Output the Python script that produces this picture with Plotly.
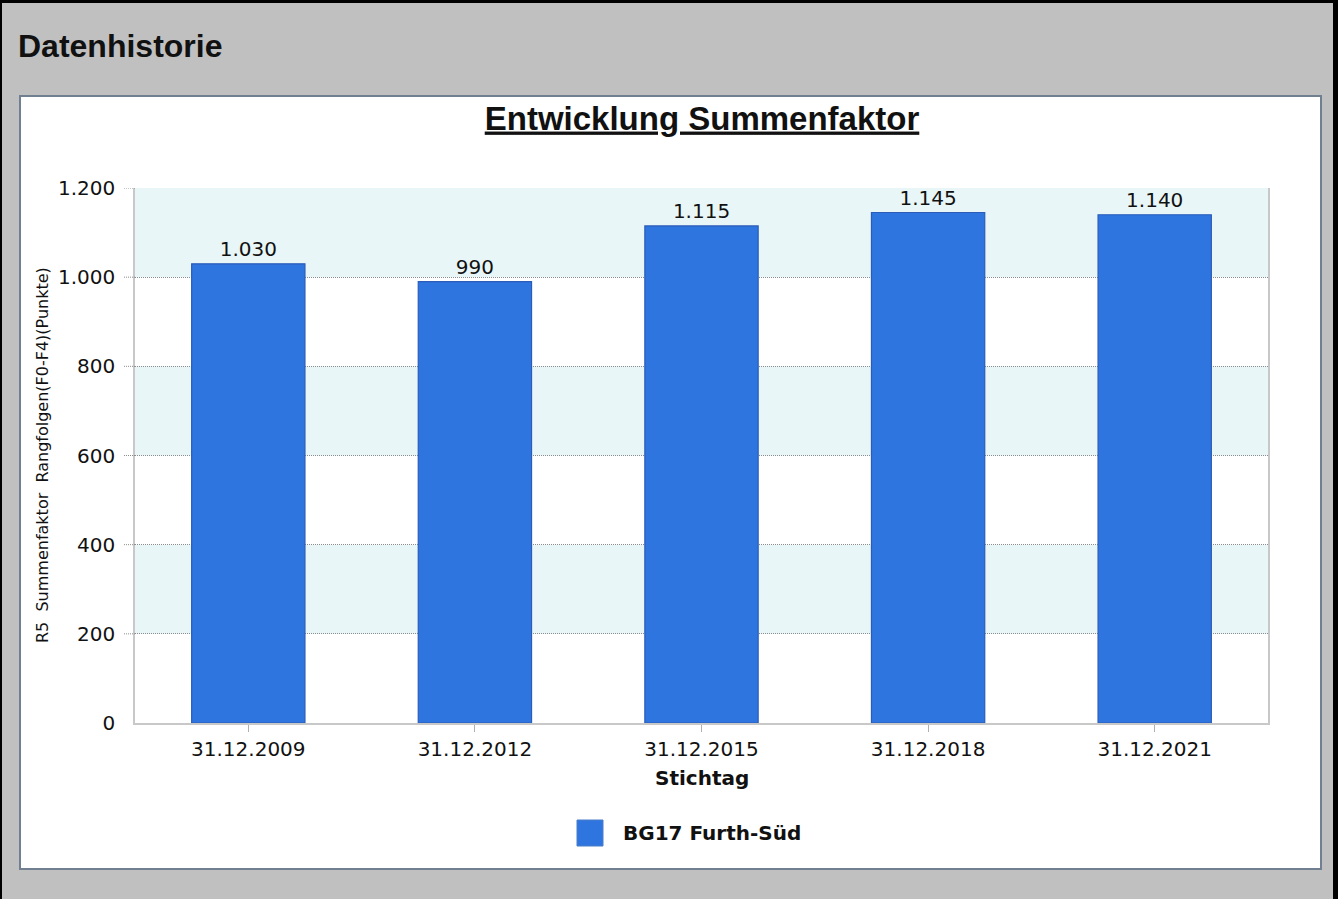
import plotly.graph_objects as go

categories = ["31.12.2009", "31.12.2012", "31.12.2015", "31.12.2018", "31.12.2021"]
values = [1030, 990, 1115, 1145, 1140]
series_name = "BG17 Furth-Süd"
y_ticks = [0, 200, 400, 600, 800, 1000, 1200]
bands = [(200, 400), (600, 800), (1000, 1200)]

W, H = 1338, 899
L, R, T, B = 135, 1268, 188, 723
PW, PH = R - L, B - T


def px(x):
    return (x - L) / PW


def py(y):
    return (B - y) / PH


BAR = "#2E75E0"
BAR_LINE = "#2A5CB8"
FONT = "DejaVu Sans"
GRID = "#8C8C8C"

fig = go.Figure()
fig.add_trace(go.Bar(
    x=categories, y=values, name=series_name,
    marker=dict(color=BAR, line=dict(color=BAR_LINE, width=1.2)),
    width=0.5,
    text=values, texttemplate="%{y:,}", textposition="outside",
    textfont=dict(family=FONT, size=20, color="#111"),
    cliponaxis=False, showlegend=False,
))

shapes = []
# outer frame
shapes.append(dict(type="rect", xref="paper", yref="paper", x0=px(20), x1=px(1321), y0=py(869), y1=py(96),
                   fillcolor="white", line=dict(color="#708090", width=2), layer="below"))
shapes.append(dict(type="rect", xref="paper", yref="paper", x0=px(0), x1=px(1338), y0=py(0), y1=py(3),
                   fillcolor="black", line=dict(width=0), layer="below"))
shapes.append(dict(type="rect", xref="paper", yref="paper", x0=px(0), x1=px(2), y0=py(0), y1=py(899),
                   fillcolor="black", line=dict(width=0), layer="below"))
shapes.append(dict(type="rect", xref="paper", yref="paper", x0=px(1333), x1=px(1338), y0=py(0), y1=py(899),
                   fillcolor="black", line=dict(width=0), layer="below"))
# bands
for lo, hi in bands:
    shapes.append(dict(type="rect", xref="x domain", yref="y", x0=0, x1=1, y0=lo, y1=hi,
                       fillcolor="#E8F6F8", line=dict(width=0), layer="below"))
# short dotted tick extensions on y
for v in y_ticks[1:]:
    shapes.append(dict(type="line", xref="paper", yref="y", x0=px(124), x1=px(135), y0=v, y1=v,
                       line=dict(color=GRID, width=1, dash="1px,1px"), layer="above"))
# legend swatch
shapes.append(dict(type="rect", xref="paper", yref="paper", x0=px(577), x1=px(603), y0=py(846), y1=py(820),
                   fillcolor=BAR, line=dict(color="#4A7CC8", width=1)))

annotations = [
    dict(text="<b>Datenhistorie</b>", xref="paper", yref="paper", x=px(16), y=py(46),
         xanchor="left", yanchor="middle", showarrow=False,
         font=dict(family="Liberation Sans", size=32, color="#111")),
    dict(text="R5\u00a0\u00a0Summenfaktor\u00a0\u00a0Rangfolgen(F0-F4)(Punkte)", xref="paper", yref="paper",
         x=px(42), y=py(455), textangle=-90, xanchor="center", yanchor="middle", showarrow=False,
         font=dict(family=FONT, size=16, color="#111")),
    dict(text="<b>Stichtag</b>", xref="paper", yref="paper", x=px(702), y=py(778),
         xanchor="center", yanchor="middle", showarrow=False,
         font=dict(family=FONT, size=20, color="#111")),
    dict(text="<b>" + series_name + "</b>", xref="paper", yref="paper", x=px(621), y=py(833),
         xanchor="left", yanchor="middle", showarrow=False,
         font=dict(family=FONT, size=20, color="#111")),
]

fig.update_layout(
    width=W, height=H,
    margin=dict(l=L, r=W - R, t=T, b=H - B, autoexpand=False),
    paper_bgcolor="#C0C0C0", plot_bgcolor="white",
    separators=",.",
    title=dict(text="<u><b>Entwicklung Summenfaktor</b></u>", x=px(702), xref="paper", xanchor="center",
               y=1 - 118 / H, yanchor="middle",
               font=dict(family="Liberation Sans", size=33, color="#111")),
    shapes=shapes, annotations=annotations, showlegend=False, bargap=0.5,
    font=dict(family=FONT, color="#111"),
)
fig.update_xaxes(
    showgrid=False, showline=True, linecolor="#C8C8C8", linewidth=1.5,
    ticks="outside", ticklen=7, tickcolor="#B0B0B0", tickwidth=1,
    tickfont=dict(family=FONT, size=20, color="#111"),
)
fig.update_yaxes(
    range=[0, 1200], tickvals=y_ticks, tickformat=",",
    showgrid=True, gridcolor=GRID, griddash="1px,1px", gridwidth=1,
    showline=True, mirror=True, linecolor="#C8C8C8", linewidth=1.5,
    zeroline=False, ticks="", ticklabelstandoff=14,
    tickfont=dict(family=FONT, size=20, color="#111"),
)

fig.write_html("out.html", config={"displayModeBar": False},
               post_script="document.body.style.margin='0';")
